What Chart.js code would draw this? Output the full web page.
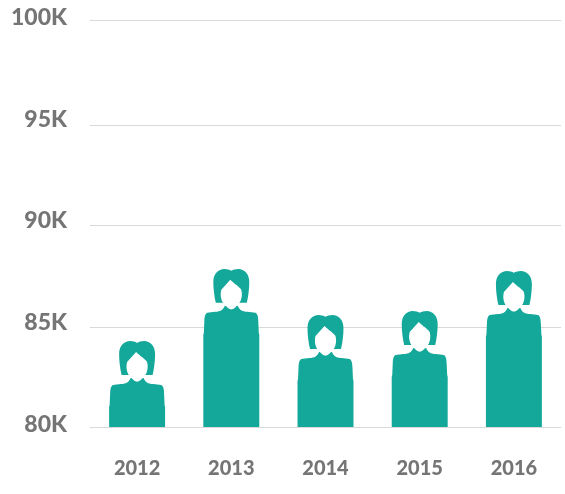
<!DOCTYPE html>
<html lang="en">
<head>
<meta charset="UTF-8">
<title>Yearly figures</title>
<style>
    * { margin: 0; padding: 0; }
    body { background: #fff; width: 565px; height: 494px; overflow: hidden; }
    #wrap { width: 565px; height: 494px; position: relative; }
</style>
</head>
<body>
<div id="wrap"><canvas id="chart"></canvas></div>
<script src="https://cdn.jsdelivr.net/npm/chart.js"></script>
<script>
const years = ['2012', '2013', '2014', '2015', '2016'];
const values = [84.22, 87.77, 85.5, 85.7, 87.67];
const tickValues = [80, 85, 90, 95, 100];
// the source's grid lines do not sit quite on its labels
const gridValues = [80, 84.9, 89.9, 94.8, 100];
// labels sit about 2.5px above the lines, in axis units
const labelShift = 0.12;

const teal = '#13a89a';

// person silhouette, head fixed size, body stretched down to the bar base
function drawPerson(ctx, bar, bottom) {
    const s = bar.width / 56;
    const cx = bar.x, top = bar.y, base = Math.min(bar.base, bottom);
    const X = d => cx + d * s;
    const Y = d => top + d * s;

    // body
    ctx.fillStyle = teal;
    ctx.beginPath();
    ctx.moveTo(X(-6.5), Y(37));
    ctx.bezierCurveTo(X(-8), Y(41), X(-11), Y(43), X(-16), Y(43));
    ctx.bezierCurveTo(X(-19), Y(43), X(-22), Y(44), X(-24), Y(44));
    ctx.bezierCurveTo(X(-26), Y(44.5), X(-27), Y(48), X(-27), Y(53));
    ctx.lineTo(X(-27.5), Y(64));
    ctx.lineTo(X(-28), Y(66));
    ctx.lineTo(X(-28), base);
    ctx.lineTo(X(28), base);
    ctx.lineTo(X(28), Y(66));
    ctx.lineTo(X(27.5), Y(64));
    ctx.lineTo(X(27), Y(53));
    ctx.bezierCurveTo(X(27), Y(48), X(26), Y(44.5), X(24), Y(44));
    ctx.bezierCurveTo(X(22), Y(44), X(19), Y(43), X(16), Y(43));
    ctx.bezierCurveTo(X(11), Y(43), X(8), Y(41), X(6.5), Y(37));
    ctx.closePath();
    ctx.fill();

    // hair
    ctx.beginPath();
    ctx.moveTo(X(0), Y(1.8));
    ctx.bezierCurveTo(X(-2), Y(0.8), X(-4), Y(0), X(-7), Y(0));
    ctx.bezierCurveTo(X(-13), Y(0), X(-18), Y(5), X(-18), Y(13));
    ctx.bezierCurveTo(X(-18), Y(20), X(-17), Y(28), X(-15.5), Y(34));
    ctx.lineTo(X(15.5), Y(34));
    ctx.bezierCurveTo(X(17), Y(28), X(18), Y(20), X(18), Y(13));
    ctx.bezierCurveTo(X(18), Y(5), X(13), Y(0), X(7), Y(0));
    ctx.bezierCurveTo(X(4), Y(0), X(2), Y(0.8), X(0), Y(1.8));
    ctx.closePath();
    ctx.fill();

    // face and the gap under the hair
    ctx.fillStyle = '#fff';
    ctx.beginPath();
    ctx.moveTo(X(-1), Y(11));
    ctx.lineTo(X(-10), Y(21));
    ctx.bezierCurveTo(X(-11.5), Y(27), X(-10), Y(32), X(-7.5), Y(35));
    ctx.bezierCurveTo(X(-4), Y(39), X(-2), Y(40.7), X(0), Y(40.7));
    ctx.bezierCurveTo(X(2), Y(40.7), X(4), Y(39), X(7.5), Y(35));
    ctx.bezierCurveTo(X(10), Y(32), X(11.5), Y(27), X(10), Y(21));
    ctx.bezierCurveTo(X(8), Y(18), X(3), Y(15), X(-1), Y(11));
    ctx.closePath();
    ctx.fill();
}

const personBars = {
    id: 'personBars',
    beforeDatasetDraw(chart, args) {
        const ctx = chart.ctx;
        ctx.save();
        args.meta.data.forEach(bar => drawPerson(ctx, bar, chart.chartArea.bottom));
        ctx.restore();
        return false;
    }
};

new Chart(document.getElementById('chart'), {
    type: 'bar',
    data: {
        labels: years,
        datasets: [{ data: values, yAxisID: 'yGrid', backgroundColor: teal, categoryPercentage: 1, barPercentage: 0.594 }]
    },
    plugins: [personBars],
    options: {
        responsive: true,
        maintainAspectRatio: false,
        animation: false,
        layout: { padding: { top: 20, right: 4, left: 0, bottom: 0 } },
        plugins: { legend: { display: false }, tooltip: { enabled: false } },
        scales: {
            x: {
                grid: { display: false },
                border: { display: false },
                afterFit: s => { s.height = 67; s.paddingLeft = 0; s.paddingRight = 0; },
                ticks: { color: '#757575', padding: 22, maxRotation: 0, font: { family: 'Lato', weight: '900', size: 20 } }
            },
            y: {
                min: 80 - labelShift,
                max: 100 - labelShift,
                position: 'left',
                grid: { display: false },
                border: { display: false },
                afterFit: s => { s.width = 90; s.paddingTop = 0; s.paddingBottom = 0; },
                afterBuildTicks: s => { s.ticks = tickValues.map(v => ({ value: v })); },
                ticks: {
                    color: '#757575',
                    padding: 15,
                    font: { family: 'Lato', weight: '900', size: 23 },
                    callback: v => v + 'K'
                }
            },
            yGrid: {
                min: 80,
                max: 100,
                position: 'left',
                border: { display: false },
                grid: { color: '#d9d9d9', lineWidth: 1, drawTicks: false },
                afterFit: s => { s.width = 0; s.paddingTop = 0; s.paddingBottom = 0; },
                afterBuildTicks: s => { s.ticks = gridValues.map(v => ({ value: v })); },
                ticks: { display: false }
            }
        }
    }
});
</script>
</body>
</html>
